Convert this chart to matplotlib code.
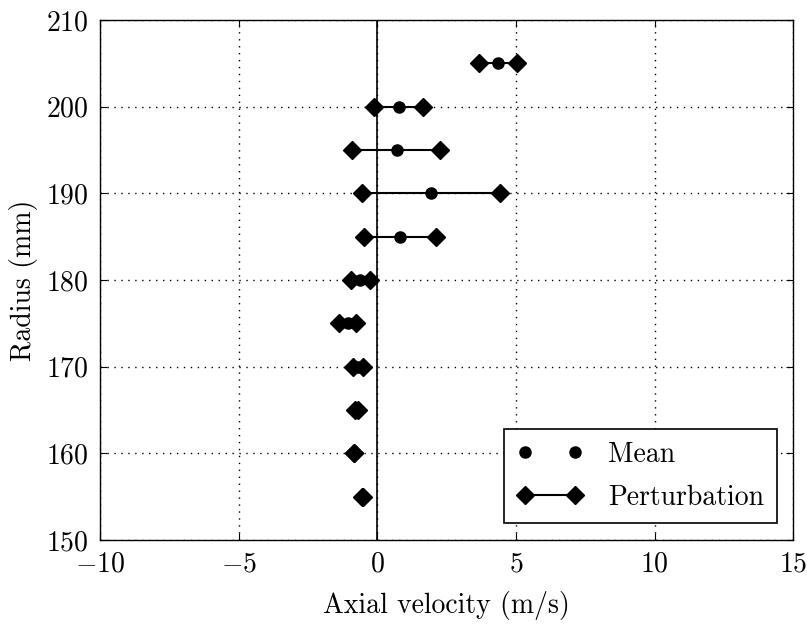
import matplotlib
matplotlib.use("Agg")
import matplotlib.pyplot as plt
from matplotlib.lines import Line2D

plt.rcParams['font.family'] = 'cmr10'
plt.rcParams['mathtext.fontset'] = 'cm'
plt.rcParams['axes.formatter.use_mathtext'] = True
plt.rcParams['font.size'] = 20

# Axial velocity profile per radial station
radius = [205, 200, 195, 190, 185, 180, 175, 170, 165, 160, 155]
mean_vel = [4.35, 0.77, 0.70, 1.94, 0.81, -0.61, -1.07, -0.71, -0.74, -0.85, -0.53]
pert_low = [3.66, -0.12, -0.90, -0.55, -0.49, -0.95, -1.40, -0.89, -0.80, -0.86, -0.55]
pert_high = [5.02, 1.66, 2.27, 4.44, 2.13, -0.28, -0.76, -0.53, -0.68, -0.84, -0.51]

fig = plt.figure(figsize=(8.07, 6.24), dpi=100)
ax = fig.add_axes([0.124, 0.1346, 0.859, 0.8334])

ax.axvline(0, color='black', lw=1.2, zorder=1)

for r, lo, hi in zip(radius, pert_low, pert_high):
    ax.plot([lo, hi], [r, r], color='black', lw=1.5, marker='D', ms=9.5, zorder=3)
ax.plot(mean_vel, radius, linestyle='none', marker='o', color='black', ms=8, zorder=4)

ax.set_xlim(-10, 15)
ax.set_ylim(150, 210)
ax.set_xticks([-10, -5, 0, 5, 10, 15])
ax.set_yticks(range(150, 211, 10))
ax.grid(True, linestyle=(0, (1, 4)), color='black', lw=1)
ax.tick_params(direction='in', top=True, right=True, length=5, pad=8)
for s in ax.spines.values():
    s.set_linewidth(1.0)

ax.set_xlabel('Axial velocity (m/s)', labelpad=10)
ax.set_ylabel('Radius (mm)', labelpad=6)

handles = [
    Line2D([], [], linestyle='none', marker='o', color='black', ms=8),
    Line2D([], [], color='black', lw=1.5, marker='D', ms=9.5),
]
leg = ax.legend(handles, ['Mean', 'Perturbation'], loc='lower right', numpoints=2,
                fancybox=False, edgecolor='black', framealpha=1,
                borderaxespad=0.6, handlelength=2.4, labelspacing=0.6,
                borderpad=0.45, handletextpad=0.9)
leg.get_frame().set_linewidth(1.2)

fig.savefig('out.png', dpi=100)
